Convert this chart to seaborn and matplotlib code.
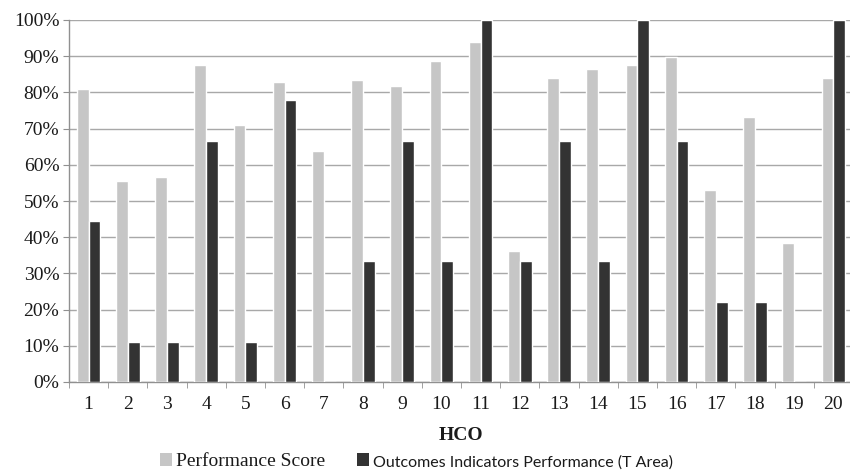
import matplotlib
matplotlib.use("Agg")
import matplotlib.pyplot as plt
import seaborn as sns
import pandas as pd
import numpy as np
from matplotlib.patches import Patch
from matplotlib.ticker import FixedLocator, PercentFormatter

hco = [str(i) for i in range(1, 21)]
performance_score = [81, 55.5, 56.5, 87.7, 71, 82.8, 63.7, 83.5, 81.8, 88.8,
                     94, 36.2, 84, 86.4, 87.7, 89.8, 53, 73.2, 38.5, 84]
outcomes_perf = [44.4, 11.1, 11.1, 66.7, 11.1, 77.8, 0, 33.3, 66.7, 33.3,
                 100, 33.3, 66.7, 33.3, 100, 66.7, 22.2, 22.2, 0, 100]
series_names = ["Performance Score", "Outcomes Indicators Performance (T Area)"]
y_ticks = list(range(0, 101, 10))

df = pd.DataFrame({
    "HCO": hco * 2,
    "value": performance_score + outcomes_perf,
    "series": [series_names[0]] * 20 + [series_names[1]] * 20,
})

sns.set_style("white")
plt.rcParams["font.family"] = ["Liberation Serif", "DejaVu Serif"]

fig = plt.figure(figsize=(8.5, 4.72), dpi=100)
ax = fig.add_axes([69 / 850, 1 - 382 / 472, (853 - 69) / 850, 362 / 472])

colors = ["#c6c6c6", "#333333"]
sns.barplot(data=df, x="HCO", y="value", hue="series", order=hco,
            hue_order=series_names, palette=colors, width=0.6,
            saturation=1, ax=ax, legend=False, zorder=3)

ax.set_ylim(0, 100)
ax.set_xlim(-0.5, 19.5)
ax.yaxis.set_major_locator(FixedLocator(y_ticks))
ax.yaxis.set_major_formatter(PercentFormatter(100, decimals=0))
ax.grid(axis="y", color="#a8a8a8", linewidth=1.0, zorder=0)
ax.set_axisbelow(True)

for s in ["top", "right"]:
    ax.spines[s].set_visible(False)
for s in ["left", "bottom"]:
    ax.spines[s].set_color("#909090")
    ax.spines[s].set_linewidth(1.0)

ax.tick_params(axis="y", length=4, color="#909090", labelsize=14, pad=3,
               direction="out", left=True, labelcolor="#1a1a1a")
ax.tick_params(axis="x", which="major", length=0, labelsize=14, pad=10, labelcolor="#1a1a1a")
ax.set_xticks(np.arange(-0.5, 20, 1), minor=True)
ax.tick_params(axis="x", which="minor", length=4, color="#909090", bottom=True)

ax.set_ylabel("")
ax.set_xlabel("HCO", fontsize=14, fontweight="bold", labelpad=10, color="#1a1a1a")

handles = [Patch(facecolor=c, edgecolor="none") for c in colors]
leg = fig.legend(handles, series_names, loc="center", bbox_to_anchor=(0.49, 0.022),
                 ncol=2, frameon=False, fontsize=14, handlelength=0.65, handleheight=0.65,
                 handletextpad=0.2, columnspacing=1.6)
leg.get_texts()[0].set_family(["Liberation Serif"])
leg.get_texts()[1].set_family(["Lato", "DejaVu Sans"])
leg.get_texts()[1].set_fontsize(11.5)
for t in leg.get_texts():
    t.set_color("#1a1a1a")

fig.savefig("out.png", dpi=100)
